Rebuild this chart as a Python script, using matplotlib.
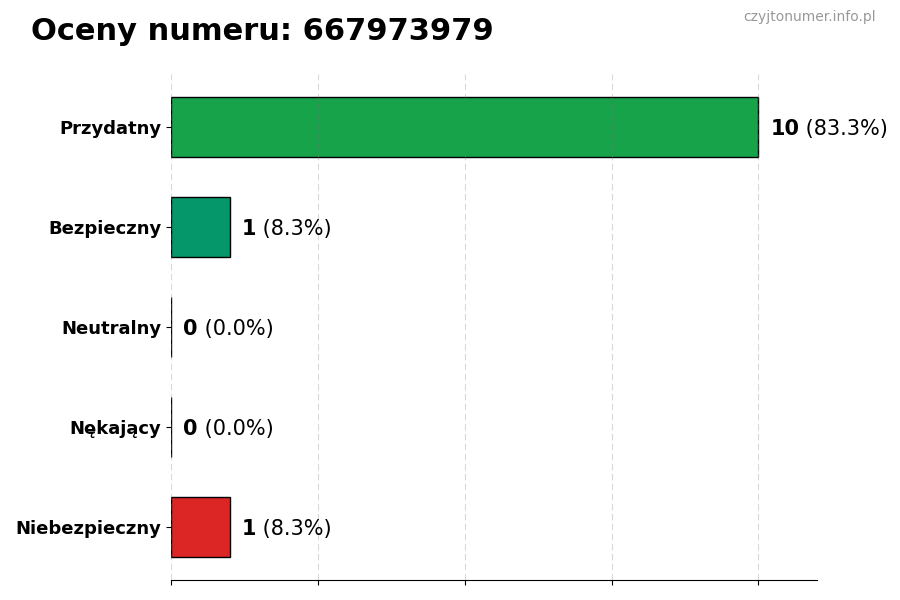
import matplotlib.pyplot as plt

# Dane
kategorie = ['Przydatny', 'Bezpieczny', 'Neutralny', 'Nękający', 'Niebezpieczny']
liczby = [10, 1, 0, 0, 1]
kolory = ['#16a34a', '#059669', '#9ca3af', '#f59e0b', '#dc2626']
numer = '667973979'

suma = sum(liczby)
pozycje = list(range(len(kategorie)))[::-1]

fig = plt.figure(figsize=(9, 6), dpi=100)
ax = fig.add_axes([0.19, 0.033, 0.718, 0.844])

ax.barh(pozycje, liczby, height=0.6, color=kolory, edgecolor='black', linewidth=1, zorder=2)

ax.set_yticks(pozycje)
ax.set_yticklabels(kategorie, fontsize=13, fontweight='bold')
ax.set_xlim(0, 11)
ax.set_ylim(-0.53, 4.53)
ax.set_xticks([0, 2.5, 5, 7.5, 10])
ax.set_xticklabels([])
ax.set_axisbelow(False)
ax.grid(axis='x', linestyle=(0, (6, 3)), color='gray', alpha=0.3, linewidth=0.8)

for s in ['top', 'right', 'left']:
    ax.spines[s].set_visible(False)

for y, v in zip(pozycje, liczby):
    t = ax.annotate(str(v), xy=(v, y), xytext=(12, 0), textcoords='offset pixels',
                    fontsize=15, fontweight='bold', va='center_baseline', ha='left')
    ax.annotate(f' ({v / suma * 100:.1f}%)', xy=(1, 0), xycoords=t,
                fontsize=15, va='bottom', ha='left')

fig.text(0.034, 0.948, f'Oceny numeru: {numer}', fontsize=22, fontweight='bold',
         ha='left', va='center')
fig.text(0.973, 0.971, 'czyjtonumer.info.pl', fontsize=10, color='#999999',
         ha='right', va='center')

fig.savefig('out.png', dpi=100)
